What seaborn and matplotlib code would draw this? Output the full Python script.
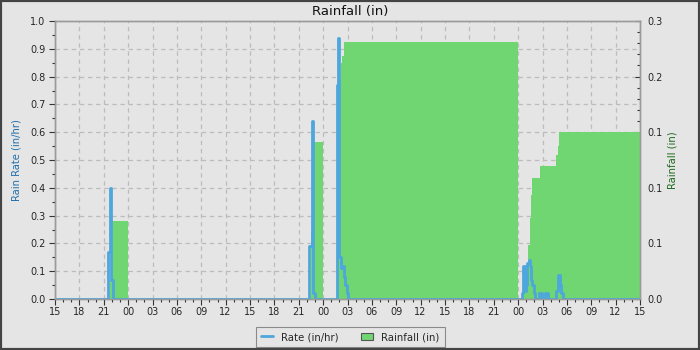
import numpy as np
import pandas as pd
import matplotlib
matplotlib.use("Agg")
import matplotlib.pyplot as plt
import seaborn as sns
from matplotlib.ticker import MultipleLocator, FormatStrFormatter
from matplotlib.lines import Line2D
from matplotlib.patches import Patch, Rectangle

# ---- data (hours since 15:00 on the first day) ----
rate_hours = [0, 6.55, 6.72, 6.9, 7.08,
              31.3, 31.62, 31.8, 32.0,
              34.72, 34.8, 34.93, 35.2, 35.45, 35.6, 35.75, 35.9, 36.1,
              57.45, 57.57, 57.8, 58.0, 58.15, 58.3, 58.5, 58.62, 58.75, 58.9, 59.1,
              59.6, 59.95, 60.25, 60.7, 61.65, 61.85, 62.1, 62.25, 62.5, 72]
rate_values = [0, 0.17, 0.40, 0.07, 0,
               0.19, 0.64, 0.02, 0,
               0.77, 0.94, 0.15, 0.11, 0.12, 0.08, 0.05, 0.02, 0,
               0.02, 0.12, 0.03, 0.05, 0.13, 0.14, 0.12, 0.07, 0.05, 0.02, 0,
               0.02, 0, 0.02, 0, 0.03, 0.086, 0.05, 0.02, 0, 0]

rain_hours = [0, 6.78, 7.0, 9.0,
              31.45, 31.85, 33.0,
              34.8, 34.9, 35.0, 35.14, 35.26, 35.38, 35.51, 35.63, 57.0,
              57.45, 57.7, 57.95, 58.15, 58.27, 58.44, 58.6, 58.72, 59.71,
              61.6, 61.9, 62.05, 72]
rain_values = [0, 0.02, 0.084, 0,
               0.072, 0.169, 0,
               0.10, 0.20, 0.236, 0.245, 0.255, 0.262, 0.273, 0.277, 0,
               0.004, 0.01, 0.02, 0.035, 0.058, 0.087, 0.112, 0.131, 0.144,
               0.155, 0.165, 0.18, 0.18]

hour_tick_labels = ["15", "18", "21", "00", "03", "06", "09", "12",
                    "15", "18", "21", "00", "03", "06", "09", "12",
                    "15", "18", "21", "00", "03", "06", "09", "12", "15"]
rain_tick_values = [0.0, 0.06, 0.12, 0.18, 0.24, 0.30]
rain_tick_labels = ["0.0", "0.1", "0.1", "0.1", "0.2", "0.3"]

# ---- style ----
BG = "#e5e5e5"
BLUE = "#4da6dc"
GREEN = "#70d672"
GRID = "#bcbcbc"
SPINE = "#9a9a9a"

sns.set_theme(style="ticks")
plt.rcParams["font.family"] = ["DejaVu Sans"]

fig = plt.figure(figsize=(7, 3.5), dpi=100, facecolor=BG)
ax = fig.add_axes([55 / 700, 1 - 299 / 350, 585 / 700, 278 / 350])
ax2 = ax.twinx()
ax.set_zorder(ax2.get_zorder() + 1)
ax.patch.set_visible(False)
ax2.patch.set_visible(True)
ax2.set_facecolor(BG)

rate_df = pd.DataFrame({"hour": rate_hours, "rate": rate_values})
rain_df = pd.DataFrame({"hour": rain_hours, "rain": rain_values})

# limits / ticks
ax.set_xlim(0, 72)
ax.set_ylim(0, 1.0)
ax2.set_ylim(0, 0.3)
ax.set_xticks(np.arange(0, 73, 3))
ax.set_xticklabels(hour_tick_labels)
ax.xaxis.set_minor_locator(MultipleLocator(1))
ax.yaxis.set_major_locator(MultipleLocator(0.1))
ax.yaxis.set_minor_locator(MultipleLocator(0.05))
ax.yaxis.set_major_formatter(FormatStrFormatter("%.1f"))
ax2.set_yticks(rain_tick_values)
ax2.set_yticklabels(rain_tick_labels)
ax2.yaxis.set_minor_locator(MultipleLocator(0.012))

# grid on the lower axes (behind the rainfall fill)
scale = 0.3 / 1.0
for t in ax.get_xticks():
    ax2.axvline(t, color=GRID, lw=0.9, ls=(0, (3.5, 3)), zorder=0.5)
for v in ax.get_yticks():
    if 0 < v < 1.0:
        ax2.axhline(v * scale, color=GRID, lw=0.9, ls=(0, (3.5, 3)), zorder=0.5)

# rainfall (daily accumulated) fill on right axis
ax2.fill_between(rain_df["hour"], rain_df["rain"], step="post",
                 color=GREEN, lw=0, zorder=2)

# rain rate line on left axis
sns.lineplot(data=rate_df, x="hour", y="rate", ax=ax, color=BLUE, lw=2.0,
             drawstyle="steps-post", estimator=None, sort=False, legend=False)

ax.set_xlabel("")
ax.set_ylabel("Rain Rate (in/hr)", color="#1f6fae", fontsize=7.2)
ax.yaxis.set_label_coords(-0.058, 0.5)
ax2.set_ylabel("Rainfall (in)", color="#1d6a1d", fontsize=7.2)
ax2.yaxis.set_label_coords(1.047, 0.5)

ax.tick_params(axis="x", which="major", direction="out", length=4, width=0.8,
               labelsize=7, pad=2, color="#333333")
ax.tick_params(axis="x", which="minor", direction="out", length=2.5, width=0.8,
               color="#333333")
ax.tick_params(axis="y", which="major", direction="out", length=4, width=0.8,
               labelsize=7, pad=3, color="#333333")
ax.tick_params(axis="y", which="minor", direction="out", length=2.5, width=0.8,
               color="#333333")
ax2.tick_params(axis="y", which="major", direction="in", length=3.5, width=0.8,
                labelsize=7, pad=5, color="#333333")
ax2.tick_params(axis="y", which="minor", direction="in", length=2.5, width=0.8,
                color="#333333")

for a in (ax, ax2):
    for s in a.spines.values():
        s.set_visible(True)
        s.set_color(SPINE)
        s.set_linewidth(1.0)

fig.text(0.5, 1 - 11 / 350, "Rainfall (in)", ha="center", va="center",
         fontsize=9.5, color="#111111")

handles = [Line2D([0], [0], color=BLUE, lw=2),
           Patch(facecolor=GREEN, edgecolor="#555555", lw=0.8)]
leg = fig.legend(handles, ["Rate (in/hr)", "Rainfall (in)"], loc="center",
                 bbox_to_anchor=(0.5, 1 - 337 / 350), ncol=2, fontsize=7.3,
                 frameon=True, fancybox=False, framealpha=1, handlelength=1.2,
                 handleheight=0.8, handletextpad=0.8, columnspacing=2.2,
                 borderpad=0.5)
leg.get_frame().set_facecolor(BG)
leg.get_frame().set_edgecolor("#8a8a8a")
leg.get_frame().set_linewidth(0.8)

fig.patches.append(Rectangle((0, 0), 1, 1, transform=fig.transFigure,
                             fill=False, edgecolor="#444444", lw=3, zorder=10))

fig.savefig("out.png", dpi=100, facecolor=BG)
